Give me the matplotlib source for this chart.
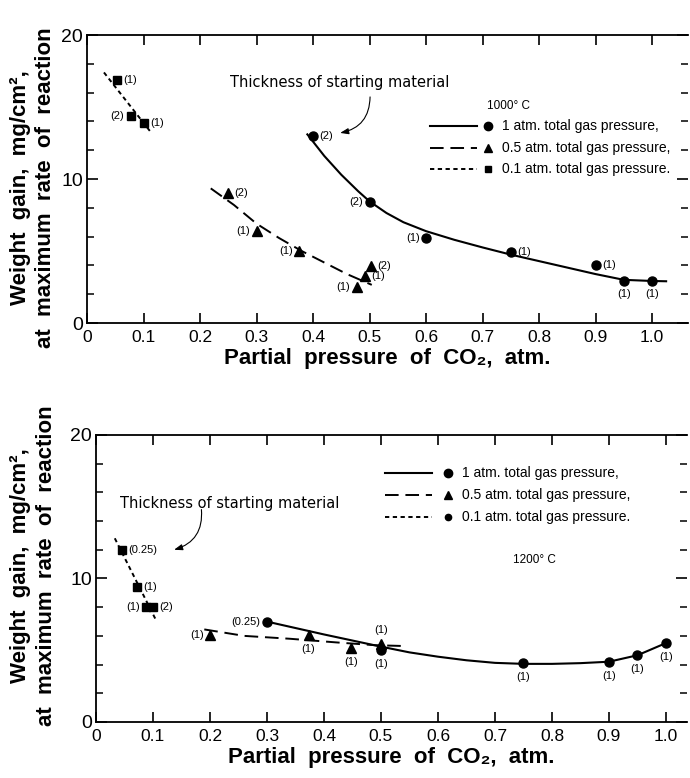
"""
Weight gain at maximum rate of reaction vs. CO2 partial pressure, 1000 and 1200 C
"""
import matplotlib
matplotlib.use("Agg")
import matplotlib.pyplot as plt
from matplotlib.ticker import FixedLocator, MultipleLocator

plt.rcParams["font.family"] = ["Liberation Sans", "DejaVu Sans"]
NARROW = ["Liberation Sans Narrow", "Liberation Sans", "DejaVu Sans"]
NOTE = ["DejaVu Sans"]

# ---- 1000 C ----
t1_x = [0.40, 0.50, 0.60, 0.75, 0.90, 0.95, 1.00]
t1_y = [13.0, 8.4, 5.9, 4.9, 4.0, 2.95, 2.95]
t1_lab = ["(2)", "(2)", "(1)", "(1)", "(1)", "(1)", "(1)"]
t1_fit_x = [0.39, 0.42, 0.45, 0.48, 0.50, 0.53, 0.56, 0.60, 0.65, 0.70, 0.75, 0.80, 0.85, 0.90, 0.95, 1.00, 1.025]
t1_fit_y = [13.1, 11.6, 10.3, 9.15, 8.45, 7.64, 7.0, 6.38, 5.78, 5.25, 4.75, 4.3, 3.85, 3.4, 3.0, 2.92, 2.9]

t05_x = [0.25, 0.30, 0.375, 0.477, 0.492, 0.502]
t05_y = [9.0, 6.4, 5.0, 2.5, 3.25, 3.95]
t05_lab = ["(2)", "(1)", "(1)", "(1)", "(1)", "(2)"]
t05_fit_x = [0.219, 0.26, 0.30, 0.34, 0.38, 0.42, 0.46, 0.504]
t05_fit_y = [9.35, 8.2, 6.9, 5.9, 5.0, 4.2, 3.4, 2.65]

t01_x = [0.053, 0.077, 0.101]
t01_y = [16.9, 14.4, 13.9]
t01_lab = ["(1)", "(2)", "(1)"]
t01_fit_x = [0.03, 0.114]
t01_fit_y = [17.4, 13.2]

# ---- 1200 C ----
b1_x = [0.30, 0.50, 0.75, 0.90, 0.95, 1.00]
b1_y = [7.0, 5.0, 4.1, 4.2, 4.65, 5.5]
b1_lab = ["(0.25)", "(1)", "(1)", "(1)", "(1)", "(1)"]
b1_fit_x = [0.305, 0.40, 0.50, 0.55, 0.60, 0.65, 0.70, 0.75, 0.80, 0.85, 0.90, 0.95, 1.00]
b1_fit_y = [6.95, 6.1, 5.25, 4.85, 4.55, 4.3, 4.12, 4.05, 4.05, 4.1, 4.2, 4.65, 5.5]

b05_x = [0.20, 0.373, 0.447, 0.50]
b05_y = [6.05, 6.05, 5.15, 5.45]
b05_lab = ["(1)", "(1)", "(1)", "(1)"]
b05_fit_x = [0.19, 0.26, 0.34, 0.42, 0.49, 0.535]
b05_fit_y = [6.45, 6.0, 5.8, 5.55, 5.35, 5.3]

b01_x = [0.046, 0.072, 0.088, 0.100]
b01_y = [12.0, 9.4, 8.0, 8.0]
b01_lab = ["(0.25)", "(1)", "(1)", "(2)"]
b01_fit_x = [0.033, 0.104]
b01_fit_y = [12.8, 7.2]

xticks = [0, 0.1, 0.2, 0.3, 0.4, 0.5, 0.6, 0.7, 0.8, 0.9, 1.0]
xtick_labels = ["0", "0.1", "0.2", "0.3", "0.4", "0.5", "0.6", "0.7", "0.8", "0.9", "1.0"]
series_names = ["1 atm. total gas pressure,", "0.5 atm. total gas pressure,", "0.1 atm. total gas pressure."]

# where each thickness label sits relative to its point
t1_side = ["r", "l", "l", "r", "r", "b", "b"]
t05_side = ["r", "l", "l", "l", "r", "r"]
t01_side = ["r", "l", "r"]
b1_side = ["l", "b", "b", "b", "b", "b"]
b05_side = ["l", "b", "b", "t"]
b01_side = ["r", "r", "l", "r"]

SOLID = dict(linestyle="-", linewidth=1.5)
DASHED = dict(linestyle=(0, (7, 3.5)), linewidth=1.4)
DOTTED = dict(linestyle=(0, (2.2, 1.8)), linewidth=1.4)

OFFSETS = {
    "r": (4.5, 0, "left", "center"),
    "l": (-4.5, 0, "right", "center"),
    "b": (0, -10, "center", "center"),
    "t": (0, 10, "center", "center"),
}


def plot_series(ax, fx, fy, px, py, labels, sides, line_kw, marker, ms):
    ax.plot(fx, fy, color="black", **line_kw)
    ax.plot(px, py, linestyle="none", marker=marker, ms=ms, color="black")
    for x, y, s, side in zip(px, py, labels, sides):
        dx, dy, ha, va = OFFSETS[side]
        ax.annotate(s, (x, y), xytext=(dx, dy), textcoords="offset points",
                    ha=ha, va=va, fontsize=8, family=NARROW)


def draw_key(ax, x0, x1, xm, xt, y, line_kw, marker, ms, text):
    ax.plot([x0, x1], [y, y], color="black", transform=ax.transAxes, clip_on=False, **line_kw)
    ax.plot([xm], [y], marker=marker, ms=ms, color="black", transform=ax.transAxes, clip_on=False)
    ax.text(xt, y, text, transform=ax.transAxes, ha="left", va="center", fontsize=10, family=NARROW)


def style_axes(ax, xmax):
    ax.set_xlim(0, xmax)
    ax.set_ylim(0, 20)
    ax.xaxis.set_major_locator(FixedLocator(xticks))
    ax.set_xticklabels(xtick_labels, family=NARROW)
    ax.yaxis.set_major_locator(FixedLocator([0, 10, 20]))
    ax.yaxis.set_minor_locator(MultipleLocator(2))
    ax.spines["right"].set_visible(False)
    for s in ("top", "bottom", "left"):
        ax.spines[s].set_linewidth(1.3)
    ax.tick_params(axis="x", which="both", direction="in", top=True, bottom=True,
                   length=7, width=1.2, labelsize=12.5, pad=5)
    ax.tick_params(axis="y", which="major", direction="in", left=True, right=True,
                   length=8, width=1.2, labelsize=14, pad=3)
    ax.tick_params(axis="y", which="minor", direction="in", left=True, right=True,
                   length=5, width=1.1)
    ax.set_xlabel("Partial  pressure  of  CO\u2082,  atm.", fontsize=16, fontweight="bold", labelpad=2)
    ax.set_ylabel("Weight  gain,  mg/cm\u00b2,\nat  maximum  rate  of  reaction",
                  fontsize=16, fontweight="bold", linespacing=1.3)
    ax.yaxis.label.set_va("center")


fig = plt.figure(figsize=(6.9, 7.78), dpi=100)

# ---------------- 1000 C ----------------
ax1 = fig.add_axes([0.1261, 0.5848, 0.8710, 0.3702])
style_axes(ax1, 1.0637)
ax1.yaxis.set_label_coords(-0.09, 0.47)
plot_series(ax1, t1_fit_x, t1_fit_y, t1_x, t1_y, t1_lab, t1_side, SOLID, "o", 6.5)
plot_series(ax1, t05_fit_x, t05_fit_y, t05_x, t05_y, t05_lab, t05_side, DASHED, "^", 6.5)
plot_series(ax1, t01_fit_x, t01_fit_y, t01_x, t01_y, t01_lab, t01_side, DOTTED, "s", 5.5)

ax1.annotate("Thickness of starting material", xy=(0.448, 13.2), xytext=(0.253, 16.7),
             fontsize=10.5, family=NOTE, ha="left", va="center")
ax1.annotate("", xy=(0.448, 13.2), xytext=(0.501, 15.7),
             arrowprops=dict(arrowstyle="-|>,head_length=0.5,head_width=0.18", color="black",
                             lw=0.8, connectionstyle="arc3,rad=-0.4", shrinkA=0, shrinkB=0))

ax1.text(0.666, 0.753, "1000\u00b0 C", transform=ax1.transAxes, fontsize=8.5, family=NARROW, va="center")
keys = [(SOLID, "o", 6), (DASHED, "^", 6), (DOTTED, "s", 5)]
for (kw, m, ms), name, y in zip(keys, series_names, [0.684, 0.608, 0.535]):
    draw_key(ax1, 0.571, 0.649, 0.668, 0.690, y, kw, m, ms, name)

# ---------------- 1200 C ----------------
ax2 = fig.add_axes([0.1391, 0.0720, 0.8565, 0.3689])
style_axes(ax2, 1.0368)
ax2.yaxis.set_label_coords(-0.106, 0.545)
plot_series(ax2, b1_fit_x, b1_fit_y, b1_x, b1_y, b1_lab, b1_side, SOLID, "o", 6.5)
plot_series(ax2, b05_fit_x, b05_fit_y, b05_x, b05_y, b05_lab, b05_side, DASHED, "^", 6.5)
plot_series(ax2, b01_fit_x, b01_fit_y, b01_x, b01_y, b01_lab, b01_side, DOTTED, "s", 6)

ax2.annotate("Thickness of starting material", xy=(0.133, 12.0), xytext=(0.042, 15.2),
             fontsize=10.5, family=NOTE, ha="left", va="center")
ax2.annotate("", xy=(0.137, 12.0), xytext=(0.185, 14.8),
             arrowprops=dict(arrowstyle="-|>,head_length=0.5,head_width=0.18", color="black",
                             lw=0.8, connectionstyle="arc3,rad=-0.4", shrinkA=0, shrinkB=0))

ax2.text(0.706, 0.564, "1200\u00b0 C", transform=ax2.transAxes, fontsize=8.5, family=NARROW, va="center")
keys = [(SOLID, "o", 6), (DASHED, "^", 6), (DOTTED, "o", 4.5)]
for (kw, m, ms), name, y in zip(keys, series_names, [0.868, 0.791, 0.714]):
    draw_key(ax2, 0.489, 0.569, 0.596, 0.619, y, kw, m, ms, name)

plt.savefig("out.png", dpi=100, facecolor="white")
plt.close()
